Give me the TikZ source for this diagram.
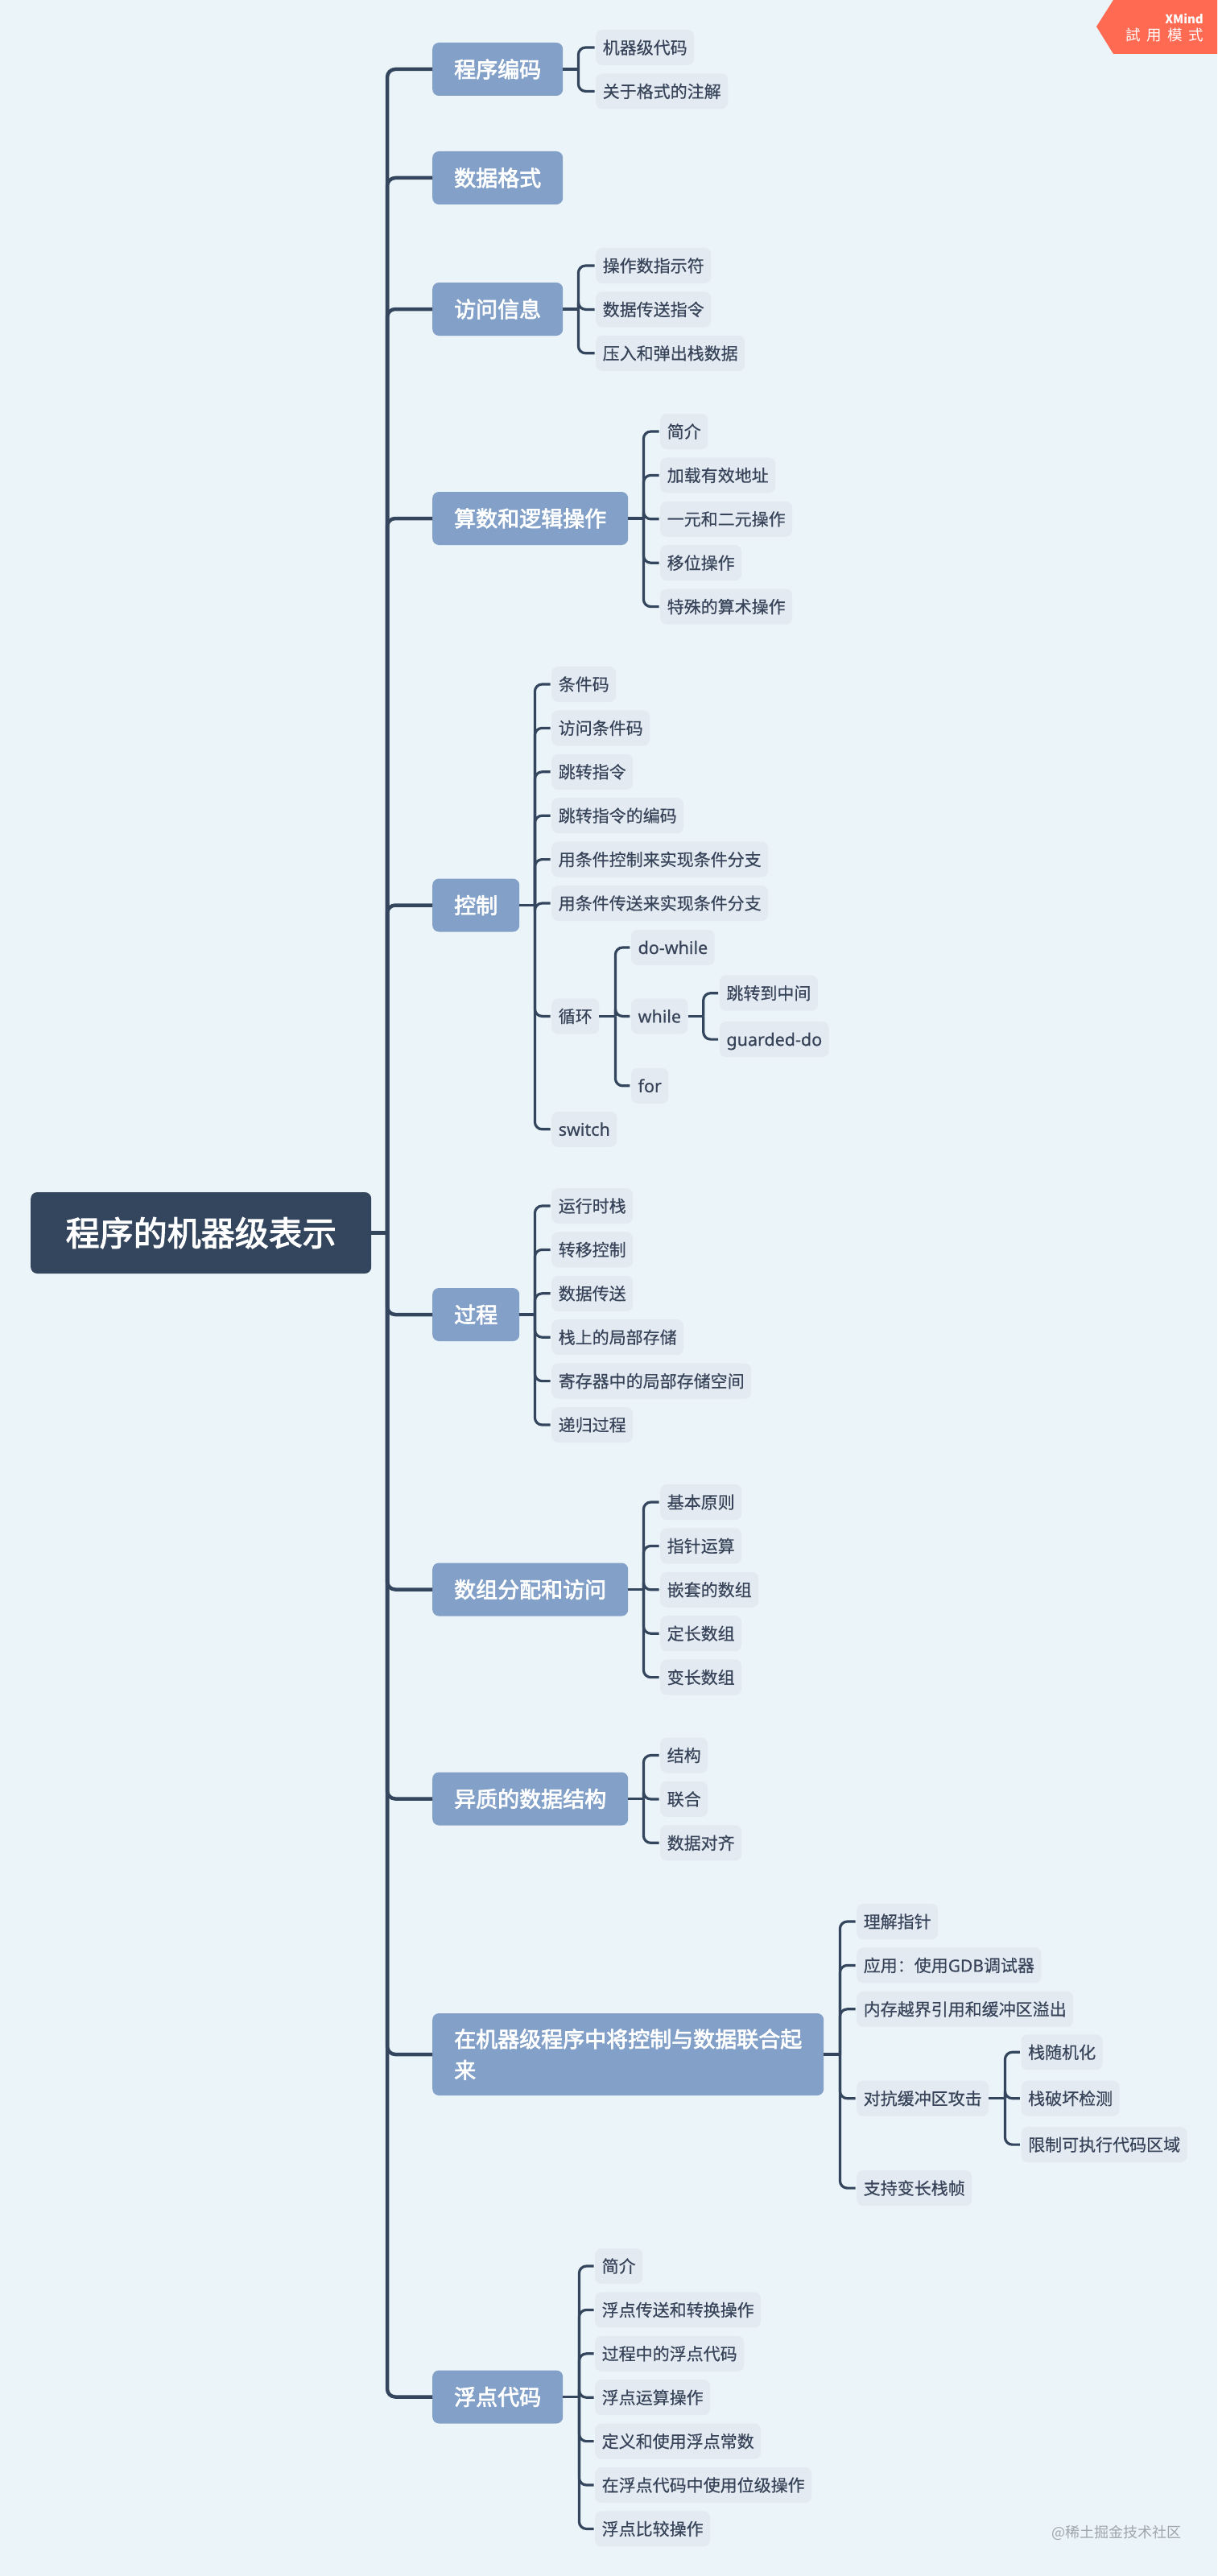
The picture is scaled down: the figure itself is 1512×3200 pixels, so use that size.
\documentclass[tikz,border=0pt]{standalone}
\usepackage{fontspec}
\setmainfont{Noto Sans CJK SC}
\newfontfamily\trialfont[WordSpace=1.8]{Noto Sans CJK TC}
\newfontfamily\topicfont[FakeBold=2.6]{Noto Sans CJK SC}
\newfontfamily\leaffont[FakeBold=0.4]{Noto Sans CJK SC}
\newfontfamily\latinfont[FakeBold=0.4]{Noto Sans}
\usepackage{xcolor}
\usepackage{tikz}
\usetikzlibrary{positioning}
\definecolor{pagebg}{HTML}{EBF4F8}
\definecolor{rootblue}{HTML}{34465E}
\definecolor{topicblue}{HTML}{83A1C8}
\definecolor{leaffill}{HTML}{E4EAF2}
\definecolor{leaftext}{HTML}{364358}
\definecolor{badgered}{HTML}{FF6A53}
\definecolor{markgray}{HTML}{A0A6AA}

\begin{document}
\begin{tikzpicture}[
    x=1pt,y=-1pt,
    root/.style={fill=rootblue,rounded corners=8pt,minimum height=101pt,inner xsep=43.5pt,inner ysep=0pt,
                 font=\fontsize{42}{50}\selectfont\topicfont,text=white,text height=37pt,text depth=5pt},
    topic/.style={fill=topicblue,rounded corners=8pt,minimum height=66pt,inner xsep=27pt,inner ysep=0pt,anchor=west,
                  font=\fontsize{27}{38.5}\selectfont\topicfont,text=white,text height=24pt,text depth=3.5pt},
    leaf/.style={fill=leaffill,rounded corners=8pt,minimum height=44pt,inner xsep=8.5pt,inner ysep=0pt,anchor=west,
                 font=\fontsize{21}{26}\selectfont\leaffont,text=leaftext,text height=18pt,text depth=2pt},
    word/.style={leaf,font=\fontsize{21.5}{26}\selectfont\latinfont},
    trunk/.style={draw=rootblue,line width=4.5pt},
    bough/.style={trunk,rounded corners=10pt},
    twig/.style={draw=rootblue,line width=3.2pt},
    branch/.style={twig,rounded corners=9pt,shorten >=1.5pt}
  ]
  \fill[pagebg] (0,0) rectangle (1512,3200);
  \useasboundingbox (0,0) rectangle (1512,3200);

  % Root and first-level topics
  \node[root,anchor=west] (root) at (38,1531.5) {程序的机器级表示};
  \node[topic] (encode) at (537,86) {程序编码};
  \node[topic] (format) at (537,221) {数据格式};
  \node[topic] (access) at (537,384) {访问信息};
  \node[topic] (arith) at (537,644) {算数和逻辑操作};
  \node[topic] (control) at (537,1124.5) {控制};
  \node[topic] (proc) at (537,1633) {过程};
  \node[topic] (array) at (537,1974.5) {数组分配和访问};
  \node[topic] (hetero) at (537,2234.5) {异质的数据结构};
  \node[topic,align=left,text width=432pt,text height=,text depth=,minimum height=102pt] (combine) at (537,2552) {在机器级程序中将控制与数据联合起\\来};
  \node[topic] (float) at (537,2977.5) {浮点代码};

  \coordinate (hub) at (481,1531.5);
  \draw[trunk] (root.east) -- (hub);
  \draw[bough] (hub) |- (encode.west);
  \draw[bough] (hub) |- (format.west);
  \draw[bough] (hub) |- (access.west);
  \draw[bough] (hub) |- (arith.west);
  \draw[bough] (hub) |- (control.west);
  \draw[bough] (hub) |- (proc.west);
  \draw[bough] (hub) |- (array.west);
  \draw[bough] (hub) |- (hetero.west);
  \draw[bough] (hub) |- (combine.west);
  \draw[bough] (hub) |- (float.west);

  % Encoding
  \node[leaf] (code) at (740,59) {机器级代码};
  \node[leaf,below=10pt of code.south west,anchor=north west] (note) {关于格式的注解};
  \draw[twig] (encode.east) -- ++(19,0) coordinate (encodehub);
  \draw[branch] (encodehub) |- (code.west);
  \draw[branch] (encodehub) |- (note.west);

  % Access
  \node[leaf] (operand) at (740,330) {操作数指示符};
  \node[leaf,below=10pt of operand.south west,anchor=north west] (move) {数据传送指令};
  \node[leaf,below=10pt of move.south west,anchor=north west] (pushpop) {压入和弹出栈数据};
  \draw[twig] (access.east) -- ++(19,0) coordinate (accesshub);
  \draw[branch] (accesshub) |- (operand.west);
  \draw[branch] (accesshub) |- (move.west);
  \draw[branch] (accesshub) |- (pushpop.west);

  % Arithmetic
  \node[leaf] (intro) at (820,536) {简介};
  \node[leaf,below=10pt of intro.south west,anchor=north west] (lea) {加载有效地址};
  \node[leaf,below=10pt of lea.south west,anchor=north west] (unary) {一元和二元操作};
  \node[leaf,below=10pt of unary.south west,anchor=north west] (shift) {移位操作};
  \node[leaf,below=10pt of shift.south west,anchor=north west] (special) {特殊的算术操作};
  \draw[twig] (arith.east) -- ++(19,0) coordinate (arithhub);
  \draw[branch] (arithhub) |- (intro.west);
  \draw[branch] (arithhub) |- (lea.west);
  \draw[branch] (arithhub) |- (unary.west);
  \draw[branch] (arithhub) |- (shift.west);
  \draw[branch] (arithhub) |- (special.west);

  % Control
  \node[leaf] (cc) at (685,850) {条件码};
  \node[leaf,below=10pt of cc.south west,anchor=north west] (ccread) {访问条件码};
  \node[leaf,below=10pt of ccread.south west,anchor=north west] (jump) {跳转指令};
  \node[leaf,below=10pt of jump.south west,anchor=north west] (jumpenc) {跳转指令的编码};
  \node[leaf,below=10pt of jumpenc.south west,anchor=north west] (condctl) {用条件控制来实现条件分支};
  \node[leaf,below=10pt of condctl.south west,anchor=north west] (condmov) {用条件传送来实现条件分支};
  \node[leaf,below=96pt of condmov.south west,anchor=north west] (loop) {循环};
  \node[word,below=96pt of loop.south west,anchor=north west] (switch) {switch};
  \draw[twig] (control.east) -- ++(19,0) coordinate (controlhub);
  \draw[branch] (controlhub) |- (cc.west);
  \draw[branch] (controlhub) |- (ccread.west);
  \draw[branch] (controlhub) |- (jump.west);
  \draw[branch] (controlhub) |- (jumpenc.west);
  \draw[branch] (controlhub) |- (condctl.west);
  \draw[branch] (controlhub) |- (condmov.west);
  \draw[branch] (controlhub) |- (loop.west);
  \draw[branch] (controlhub) |- (switch.west);

  % Loops
  \node[word,right=39.5pt of loop.east,anchor=west] (while) {while};
  \node[word,above=41pt of while.north west,anchor=south west] (dowhile) {do-while};
  \node[word,below=42pt of while.south west,anchor=north west] (for) {for};
  \node[leaf,above right=6.5pt and 39pt of while.east,anchor=south west] (jumpmid) {跳转到中间};
  \node[word,below right=6.5pt and 39pt of while.east,anchor=north west] (guarded) {guarded-do};
  \draw[twig] (loop.east) -- ++(20,0) coordinate (loophub);
  \draw[branch] (loophub) |- (dowhile.west);
  \draw[branch] (loophub) |- (while.west);
  \draw[branch] (loophub) |- (for.west);
  \draw[twig] (while.east) -- ++(19,0) coordinate (whilehub);
  \draw[branch] (whilehub) |- (jumpmid.west);
  \draw[branch] (whilehub) |- (guarded.west);

  % Procedures
  \node[leaf] (stack) at (685,1498) {运行时栈};
  \node[leaf,below=10pt of stack.south west,anchor=north west] (transfer) {转移控制};
  \node[leaf,below=10pt of transfer.south west,anchor=north west] (datamove) {数据传送};
  \node[leaf,below=10pt of datamove.south west,anchor=north west] (local) {栈上的局部存储};
  \node[leaf,below=10pt of local.south west,anchor=north west] (regs) {寄存器中的局部存储空间};
  \node[leaf,below=10pt of regs.south west,anchor=north west] (recur) {递归过程};
  \draw[twig] (proc.east) -- ++(19,0) coordinate (prochub);
  \draw[branch] (prochub) |- (stack.west);
  \draw[branch] (prochub) |- (transfer.west);
  \draw[branch] (prochub) |- (datamove.west);
  \draw[branch] (prochub) |- (local.west);
  \draw[branch] (prochub) |- (regs.west);
  \draw[branch] (prochub) |- (recur.west);

  % Arrays
  \node[leaf] (basic) at (820,1866) {基本原则};
  \node[leaf,below=10pt of basic.south west,anchor=north west] (pointer) {指针运算};
  \node[leaf,below=10pt of pointer.south west,anchor=north west] (nested) {嵌套的数组};
  \node[leaf,below=10pt of nested.south west,anchor=north west] (fixed) {定长数组};
  \node[leaf,below=10pt of fixed.south west,anchor=north west] (variable) {变长数组};
  \draw[twig] (array.east) -- ++(19,0) coordinate (arrayhub);
  \draw[branch] (arrayhub) |- (basic.west);
  \draw[branch] (arrayhub) |- (pointer.west);
  \draw[branch] (arrayhub) |- (nested.west);
  \draw[branch] (arrayhub) |- (fixed.west);
  \draw[branch] (arrayhub) |- (variable.west);

  % Structures
  \node[leaf] (struct) at (820,2180.5) {结构};
  \node[leaf,below=10pt of struct.south west,anchor=north west] (union) {联合};
  \node[leaf,below=10pt of union.south west,anchor=north west] (align) {数据对齐};
  \draw[twig] (hetero.east) -- ++(19,0) coordinate (heterohub);
  \draw[branch] (heterohub) |- (struct.west);
  \draw[branch] (heterohub) |- (union.west);
  \draw[branch] (heterohub) |- (align.west);

  % Control and data
  \node[leaf] (ptrs) at (1064,2387) {理解指针};
  \node[leaf,below=10pt of ptrs.south west,anchor=north west] (gdb) {应用：使用{\latinfont GDB}调试器};
  \node[leaf,below=10pt of gdb.south west,anchor=north west] (overflow) {内存越界引用和缓冲区溢出};
  \node[leaf,below=66.5pt of overflow.south west,anchor=north west] (thwart) {对抗缓冲区攻击};
  \node[leaf,below=67pt of thwart.south west,anchor=north west] (frames) {支持变长栈帧};
  \draw[twig] (combine.east) -- ++(20,0) coordinate (combinehub);
  \draw[branch] (combinehub) |- (ptrs.west);
  \draw[branch] (combinehub) |- (gdb.west);
  \draw[branch] (combinehub) |- (overflow.west);
  \draw[branch] (combinehub) |- (thwart.west);
  \draw[branch] (combinehub) |- (frames.west);

  % Buffer attacks
  \node[leaf,right=40pt of thwart.east,anchor=west] (canary) {栈破坏检测};
  \node[leaf,above=13pt of canary.north west,anchor=south west] (random) {栈随机化};
  \node[leaf,below=13pt of canary.south west,anchor=north west] (nx) {限制可执行代码区域};
  \draw[twig] (thwart.east) -- ++(20,0) coordinate (thwarthub);
  \draw[branch] (thwarthub) |- (random.west);
  \draw[branch] (thwarthub) |- (canary.west);
  \draw[branch] (thwarthub) |- (nx.west);

  % Floating point
  \node[leaf] (fpintro) at (739,2815) {简介};
  \node[leaf,below=10pt of fpintro.south west,anchor=north west] (fpmove) {浮点传送和转换操作};
  \node[leaf,below=10pt of fpmove.south west,anchor=north west] (fpproc) {过程中的浮点代码};
  \node[leaf,below=10pt of fpproc.south west,anchor=north west] (fparith) {浮点运算操作};
  \node[leaf,below=10pt of fparith.south west,anchor=north west] (fpconst) {定义和使用浮点常数};
  \node[leaf,below=10pt of fpconst.south west,anchor=north west] (fpbits) {在浮点代码中使用位级操作};
  \node[leaf,below=10pt of fpbits.south west,anchor=north west] (fpcmp) {浮点比较操作};
  \draw[twig] (float.east) -- ++(20,0) coordinate (floathub);
  \draw[branch] (floathub) |- (fpintro.west);
  \draw[branch] (floathub) |- (fpmove.west);
  \draw[branch] (floathub) |- (fpproc.west);
  \draw[branch] (floathub) |- (fparith.west);
  \draw[branch] (floathub) |- (fpconst.west);
  \draw[branch] (floathub) |- (fpbits.west);
  \draw[branch] (floathub) |- (fpcmp.west);

  % Trial badge and watermark
  \fill[badgered] (1383,0) -- (1362,33) -- (1383,67) -- (1512,67) -- (1512,0) -- cycle;
  \node[anchor=east,inner sep=0pt,text=white,font=\fontsize{15}{18}\selectfont\bfseries] (xmind) at (1495,23) {XMind};
  \node[anchor=east,inner sep=0pt,text=white,font=\fontsize{18.5}{22}\selectfont\trialfont] (trial) at (1495,43) {試 用 模 式};
  \node[anchor=east,inner sep=0pt,text=markgray,font=\fontsize{18}{22}\selectfont] (mark) at (1468,3146) {@稀土掘金技术社区};
\end{tikzpicture}
\end{document}
